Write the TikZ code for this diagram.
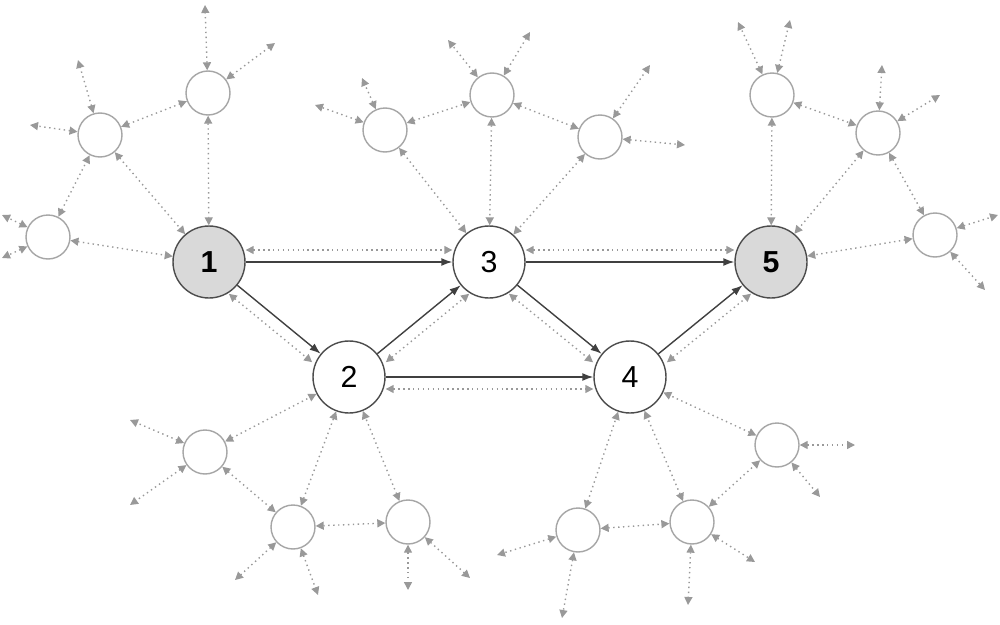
\documentclass[tikz,border=0pt]{standalone}
\usepackage{fontspec}
\setmainfont{Liberation Sans}
\usetikzlibrary{arrows.meta}
\begin{document}
\begin{tikzpicture}[x=0.02cm,y=-0.02cm,
main/.style={
circle,
draw=black!70,
thick,
fill=white,
minimum size=1.44cm,
inner sep=0pt,
font=\LARGE,
},
src/.style={
main,
fill=black!15,
font=\LARGE\bfseries,
},
small/.style={
circle,
draw=black!35,
thick,
fill=white,
minimum size=0.88cm,
},
link/.style={
-{Latex[length=2.2mm,width=1.6mm]},
thick,
black!75,
},
dot/.style={
{Triangle[length=1.6mm,width=1.6mm]}-{Triangle[length=1.6mm,width=1.6mm]},
dotted,
thick,
black!40,
}
]
\useasboundingbox(0,0)rectangle(1000,625);

\node[src](n1)at(209,262){1};
\node[main](n3)at(489,262){3};
\node[src](n5)at(771,262){5};
\node[main](n2)at(349,377){2};
\node[main](n4)at(630,377){4};

\node[small](a1)at(48,237){};
\node[small](a2)at(100,135){};
\node[small](a3)at(208,93){};
\node[small](b1)at(385,130){};
\node[small](b2)at(492,95){};
\node[small](b3)at(600,137){};
\node[small](c1)at(772,95){};
\node[small](c2)at(878,133){};
\node[small](c3)at(935,235){};
\node[small](d1)at(205,452){};
\node[small](d2)at(293,527){};
\node[small](d3)at(408,522){};
\node[small](e1)at(578,530){};
\node[small](e2)at(692,522){};
\node[small](e3)at(777,445){};

\draw[link](n1)--(n3);
\draw[link](n3)--(n5);
\draw[link](n1)--(n2);
\draw[link](n2)--(n3);
\draw[link](n3)--(n4);
\draw[link](n2)--(n4);
\draw[link](n4)--(n5);

\draw[dot,transform canvas={yshift=0.24cm}](n1)--(n3);
\draw[dot,transform canvas={yshift=0.24cm}](n3)--(n5);
\draw[dot,transform canvas={shift={(-0.17cm,-0.17cm)}}](n1)--(n2);
\draw[dot,transform canvas={shift={(0.17cm,-0.17cm)}}](n2)--(n3);
\draw[dot,transform canvas={shift={(-0.17cm,-0.17cm)}}](n3)--(n4);
\draw[dot,transform canvas={yshift=-0.24cm}](n2)--(n4);
\draw[dot,transform canvas={shift={(0.17cm,-0.17cm)}}](n4)--(n5);

\foreach \u/\v in {a1/n1,a2/n1,a3/n1,a1/a2,a2/a3,
b1/n3,b2/n3,b3/n3,b1/b2,b2/b3,
c1/n5,c2/n5,c3/n5,c1/c2,c2/c3,
d1/n2,d2/n2,d3/n2,d1/d2,d2/d3,
e1/n4,e2/n4,e3/n4,e1/e2,e2/e3}
\draw[dot](\u)--(\v);

\foreach \u/\x/\y [count=\i] in {a1/2/215,a1/2/258,a2/30/125,a2/78/60,a3/205/5,a3/275/43,
b1/315/105,b1/362/78,b2/448/40,b2/530/32,b3/650/65,b3/685/145,
c1/738/22,c1/790/20,c2/882/65,c2/940/95,c3/998/215,c3/985/290,
d1/130/420,d1/130/505,d2/235/580,d2/318/595,d3/408/590,d3/470/578,
e1/497/555,e1/562/618,e2/688/605,e2/755/562,e3/855/445,e3/820/497}
{\coordinate(x\i)at(\x,\y);
\draw[dot](\u)--(x\i);}
\end{tikzpicture}
\end{document}
